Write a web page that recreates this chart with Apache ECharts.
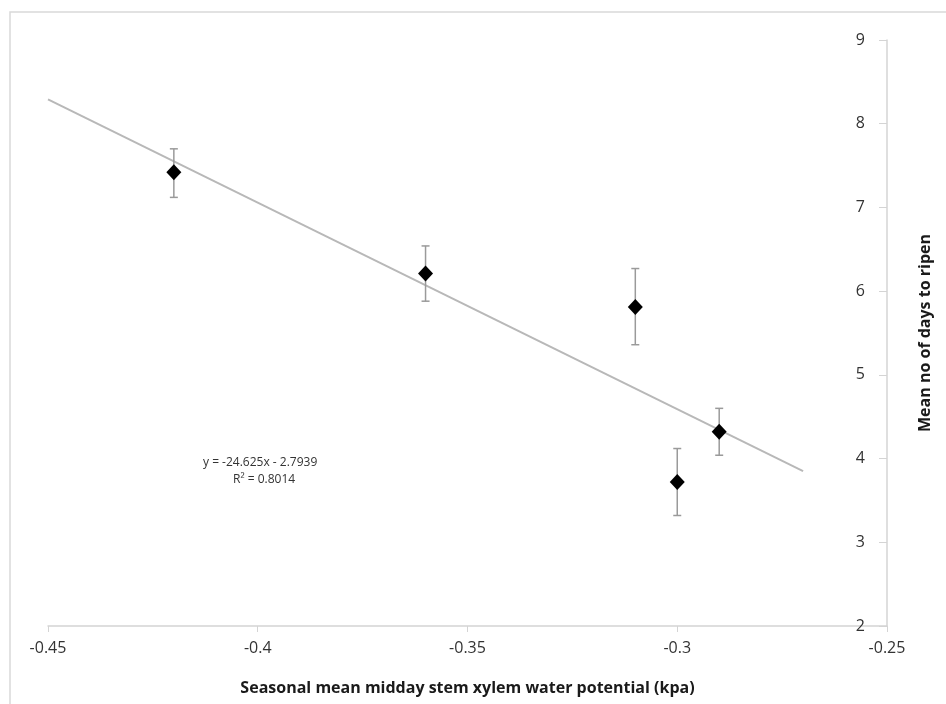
<!DOCTYPE html>
<html>
<head>
<meta charset="utf-8">
<script src="https://cdn.jsdelivr.net/npm/echarts@6/dist/echarts.min.js"></script>
<style>
  html, body { margin: 0; padding: 0; background: #fff; }
  #chart { width: 946px; height: 704px; }
</style>
</head>
<body>
<div id="chart"></div>
<script>
// stem water potential (x) vs mean days to ripen (y)
const potential = [-0.42, -0.36, -0.31, -0.30, -0.29]
const daysToRipen = [7.42, 6.21, 5.81, 3.72, 4.32]
const errHigh = [7.70, 6.54, 6.27, 4.12, 4.60]
const errLow = [7.12, 5.88, 5.36, 3.32, 4.04]

// linear trendline end points
const trendX = [-0.45, -0.27]
const trendY = [8.29, 3.85]

const xTicks = ["-0.45", "-0.4", "-0.35", "-0.3", "-0.25"]
const eqLines = ["y = -24.625x - 2.7939", "R² = 0.8014"]

const font = "'Open Sans', sans-serif"
const axisGrey = "#d4d4d4"

const chart = echarts.init(document.getElementById("chart"))

const option = {
  animation: false,
  textStyle: { fontFamily: font },
  grid: { left: 48, right: 59, top: 40, bottom: 78 },
  xAxis: {
    type: "value",
    min: -0.45,
    max: -0.25,
    interval: 0.05,
    splitLine: { show: false },
    axisLine: { lineStyle: { color: axisGrey, width: 1.5 } },
    axisTick: { length: 6, lineStyle: { color: axisGrey } },
    axisLabel: {
      color: "#333",
      fontSize: 16,
      margin: 14,
      formatter: v => {
        const i = Math.round((v + 0.45) / 0.05)
        return xTicks[i] || ""
      },
    },
    name: "Seasonal mean midday stem xylem water potential (kpa)",
    nameLocation: "middle",
    nameGap: 54,
    nameTextStyle: { color: "#1a1a1a", fontSize: 16, fontWeight: "bold" },
  },
  yAxis: {
    type: "value",
    position: "right",
    min: 2,
    max: 9,
    interval: 1,
    splitLine: { show: false },
    axisLine: { show: true, onZero: false, lineStyle: { color: axisGrey, width: 1.5 } },
    axisTick: { show: true, inside: true, length: 8, lineStyle: { color: axisGrey } },
    axisLabel: { inside: true, color: "#333", fontSize: 16, margin: 22 },
    name: "Mean no of days to ripen",
    nameLocation: "middle",
    nameRotate: 90,
    nameGap: 30,
    nameTextStyle: { color: "#1a1a1a", fontSize: 16, fontWeight: "bold" },
  },
  series: [
    {
      type: "line",
      data: trendX.map((x, i) => [x, trendY[i]]),
      symbol: "none",
      lineStyle: { color: "#b8b8b8", width: 2 },
      silent: true,
      z: 1,
    },
    {
      type: "custom",
      data: potential.map((x, i) => [x, errLow[i], errHigh[i]]),
      renderItem: (params, api) => {
        const lo = api.coord([api.value(0), api.value(1)])
        const hi = api.coord([api.value(0), api.value(2)])
        const cap = 4
        const style = { stroke: "#9a9a9a", lineWidth: 1.5 }
        return {
          type: "group",
          children: [
            { type: "line", shape: { x1: hi[0], y1: hi[1], x2: lo[0], y2: lo[1] }, style },
            { type: "line", shape: { x1: hi[0] - cap, y1: hi[1], x2: hi[0] + cap, y2: hi[1] }, style },
            { type: "line", shape: { x1: lo[0] - cap, y1: lo[1], x2: lo[0] + cap, y2: lo[1] }, style },
          ],
        }
      },
      z: 2,
    },
    {
      type: "scatter",
      data: potential.map((x, i) => [x, daysToRipen[i]]),
      symbol: "diamond",
      symbolSize: [15, 16],
      itemStyle: { color: "#000", opacity: 1 },
      z: 3,
    },
  ],
  graphic: [
    {
      type: "rect",
      shape: { x: 10, y: 12, width: 980, height: 740 },
      style: { fill: "none", stroke: "#d9d9d9", lineWidth: 1.5 },
      silent: true,
    },
    {
      type: "text",
      left: 203,
      top: 457,
      style: { text: eqLines[0], fill: "#333", font: "12px " + font },
    },
    {
      type: "text",
      left: 233,
      top: 474,
      style: { text: eqLines[1], fill: "#333", font: "12px " + font },
    },
  ],
}

chart.setOption(option)
window.addEventListener("resize", () => chart.resize())
</script>
</body>
</html>
